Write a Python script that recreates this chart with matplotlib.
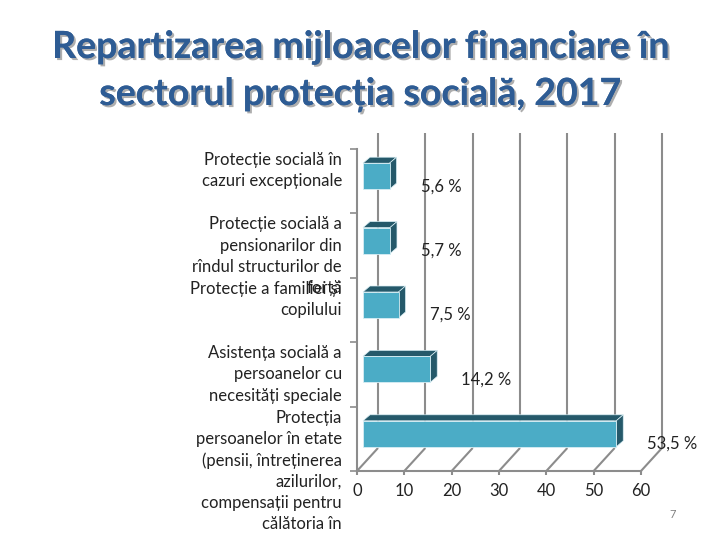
import matplotlib
matplotlib.use("Agg")
import matplotlib.pyplot as plt
from matplotlib.patches import Polygon, Rectangle
import matplotlib.patheffects as pe

# ---- data ----
categories = [
    "Protecție socială în\ncazuri excepționale",
    "Protecție socială a\npensionarilor din\nrîndul structurilor de\nforță",
    "Protecție a familiei și\ncopilului",
    "Asistența socială a\npersoanelor cu\nnecesități speciale",
    "Protecția\npersoanelor în etate\n(pensii, întreținerea\nazilurilor,\ncompensații pentru\ncălătoria în",
]
values = [5.6, 5.7, 7.5, 14.2, 53.5]
value_labels = ["5,6 %", "5,7 %", "7,5 %", "14,2 %", "53,5 %"]
xticks = [0, 10, 20, 30, 40, 50, 60]
title_lines = ["Repartizarea mijloacelor financiare în",
               "sectorul protecția socială, 2017"]

FONT = ["Lato", "DejaVu Sans"]
plt.rcParams['font.family'] = FONT

W, H = 720, 540
fig = plt.figure(figsize=(7.2, 5.4), dpi=100)
fig.patch.set_facecolor("white")

# front plane of the plot in pixels
L, R, T, B = 357, 641, 149, 471
ax = fig.add_axes([L / W, 1 - B / H, (R - L) / W, (B - T) / H])
ax.set_xlim(0, 60)
ax.set_ylim(len(categories) - 0.5, -0.5)
ax.set_facecolor("none")

ux = 60 / (R - L)              # data units per px (x)
uy = len(categories) / (B - T)  # data units per px (y, downward)

grid_c = "#8C8C8C"
front_c = "#4BACC6"
dark_c = "#25596A"

# axes styling
for s in ["top", "right"]:
    ax.spines[s].set_visible(False)
for s in ["left", "bottom"]:
    ax.spines[s].set_color(grid_c)
    ax.spines[s].set_linewidth(1.5)
ax.set_xticks(xticks)
ax.set_xticklabels([str(t) for t in xticks])
ax.set_yticks([i - 0.5 for i in range(len(categories) + 1)])
ax.set_yticklabels([])
ax.tick_params(axis="x", length=3, width=1.5, color=grid_c, pad=6,
               labelsize=12, labelcolor="#222222")
ax.tick_params(axis="y", length=5, width=1.2, color=grid_c)

ybot = len(categories) - 0.5
ytop = -0.5
dxb, dyb_bot, dyb_top = 21 * ux, 23 * uy, 16 * uy
# floor diagonals and back-wall gridlines
for t in xticks:
    ax.plot([t, t + dxb], [ybot, ybot - dyb_bot], color=grid_c, lw=1.5,
            clip_on=False, zorder=1, solid_capstyle="butt")
    ax.plot([t + dxb, t + dxb], [ybot - dyb_bot, ytop - dyb_top], color=grid_c,
            lw=1.5, clip_on=False, zorder=1, solid_capstyle="butt")

# 3D bars
x0 = 6 * ux
ddx, ddy = 7 * ux, 6 * uy
for i, v in enumerate(values):
    top = i - 18 * uy
    bot = i + 8 * uy
    x1 = x0 + v
    ax.add_patch(Polygon([(x0, top), (x0 + ddx, top - ddy), (x1 + ddx, top - ddy), (x1, top)],
                         closed=True, facecolor=dark_c, edgecolor="#d8eef4", lw=0.5,
                         clip_on=False, zorder=3))
    ax.add_patch(Polygon([(x1, top), (x1 + ddx, top - ddy), (x1 + ddx, bot - ddy), (x1, bot)],
                         closed=True, facecolor=dark_c, edgecolor="#d8eef4", lw=0.5,
                         clip_on=False, zorder=3))
    ax.add_patch(Rectangle((x0, top), v, bot - top, facecolor=front_c,
                           edgecolor="#d8eef4", lw=0.6, clip_on=False, zorder=4))
    ax.text(x1 + 31 * ux, i + 5 * uy, value_labels[i], ha="left", va="center",
            fontsize=12, color="#222222", zorder=5, clip_on=False)

# category labels (top aligned at the category boundary)
for i, lab in enumerate(categories):
    ax.text(-15 * ux, i - 0.5 + 3 * uy, lab, ha="right", va="top",
            fontsize=12, color="#222222", linespacing=1.40, clip_on=False)

# title
shadow = [pe.withSimplePatchShadow(offset=(1.5, -1.5), shadow_rgbFace="#9a9a9a", alpha=0.8),
          pe.Normal()]
fig.text(0.5, 1 - 58 / H, title_lines[0], ha="center", va="baseline",
         fontsize=27, fontweight="bold", color="#2E5C94", path_effects=shadow)
fig.text(0.5, 1 - 105 / H, title_lines[1], ha="center", va="baseline",
         fontsize=27, fontweight="bold", color="#2E5C94", path_effects=shadow)

# page number
fig.text(673 / W, 1 - 514 / H, "7", ha="center", va="center", fontsize=8, color="#808080")

fig.savefig("out.png", dpi=100)
